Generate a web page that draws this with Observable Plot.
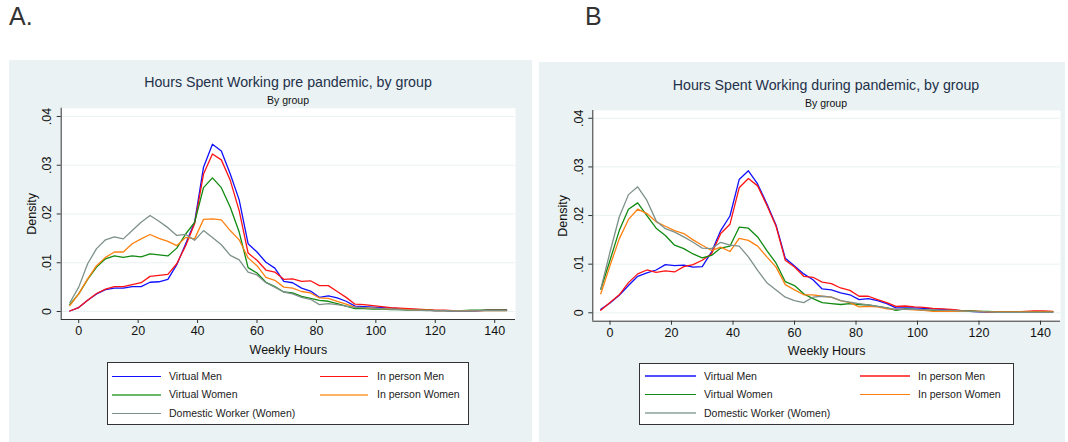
<!DOCTYPE html>
<html><head><meta charset="utf-8">
<script src="https://cdn.jsdelivr.net/npm/d3@7"></script>
<script src="https://cdn.jsdelivr.net/npm/@observablehq/plot@0.6"></script>
<style>
body{margin:0;width:1068px;height:442px;background:#fff;font-family:"Liberation Sans",Arial,sans-serif;position:relative;overflow:hidden}
.panel{position:absolute;background:#eaf2f3}
.title{position:absolute;transform:translateX(-50%);white-space:nowrap;font-size:14.2px;line-height:14px;color:#23304a}
.sub{position:absolute;transform:translateX(-50%);white-space:nowrap;font-size:10.5px;line-height:10.5px;color:#111}
.letter{position:absolute;font-size:25px;line-height:25px;color:#333}
.legend{position:absolute;background:#fff;border:1px solid #333;box-sizing:border-box}
.item{position:absolute;font-size:10.5px;line-height:12px;color:#222;white-space:nowrap}
.swatch{position:absolute}
.plotbox{position:absolute}
</style></head><body>
<script>
// ---- data ----
const groups = ["Virtual Men", "In person Men", "Virtual Women", "In person Women", "Domestic Worker (Women)"];
const colors = ["#1010ff", "#ff1414", "#108a10", "#ff8010", "#7d9189"];
const hours = [-3,0,3,6,9,12,15,18,21,24,27,30,33,36,39,42,45,48,51,54,57,60,63,66,69,72,75,78,81,84,87,90,93,96,99,102,105,108,111,114,117,120,123,126,129,132,135,138,141,144];
const xTicks = [0, 20, 40, 60, 80, 100, 120, 140];
const yTicks = [0, 0.01, 0.02, 0.03, 0.04];

// pre pandemic
const preVirtualMen = [0.0001,0.0008,0.0023,0.0036,0.0045,0.0048,0.0048,0.0051,0.0051,0.0060,0.0061,0.0066,0.0096,0.0139,0.0183,0.0296,0.0343,0.0329,0.0282,0.0229,0.0139,0.0122,0.0101,0.0089,0.0062,0.0059,0.0048,0.0042,0.0029,0.0032,0.0028,0.0021,0.0011,0.0010,0.0009,0.0008,0.0007,0.0006,0.0005,0.0004,0.0003,0.0002,0.0002,0.0001,0.0001,0.0001,0.0002,0.0003,0.0003,0.0003];
const preInPersonMen = [0.0001,0.0008,0.0023,0.0037,0.0046,0.0051,0.0051,0.0055,0.0059,0.0072,0.0074,0.0076,0.0098,0.0135,0.0180,0.0282,0.0323,0.0311,0.0269,0.0207,0.0120,0.0105,0.0085,0.0081,0.0066,0.0067,0.0062,0.0063,0.0053,0.0053,0.0041,0.0029,0.0015,0.0014,0.0012,0.0010,0.0008,0.0007,0.0006,0.0005,0.0004,0.0003,0.0003,0.0002,0.0002,0.0002,0.0002,0.0003,0.0003,0.0003];
const preVirtualWomen = [0.0014,0.0036,0.0066,0.0091,0.0108,0.0114,0.0111,0.0114,0.0112,0.0118,0.0116,0.0114,0.0130,0.0159,0.0183,0.0254,0.0274,0.0254,0.0214,0.0163,0.0090,0.0079,0.0060,0.0051,0.0040,0.0038,0.0031,0.0027,0.0023,0.0021,0.0016,0.0011,0.0006,0.0006,0.0005,0.0005,0.0004,0.0004,0.0003,0.0003,0.0003,0.0002,0.0002,0.0002,0.0002,0.0003,0.0003,0.0003,0.0003,0.0003];
const preInPersonWomen = [0.0012,0.0036,0.0067,0.0094,0.0111,0.0122,0.0122,0.0139,0.0149,0.0158,0.0150,0.0144,0.0135,0.0152,0.0149,0.0189,0.0190,0.0188,0.0166,0.0147,0.0110,0.0094,0.0070,0.0064,0.0050,0.0048,0.0041,0.0038,0.0028,0.0027,0.0021,0.0015,0.0009,0.0008,0.0007,0.0006,0.0005,0.0005,0.0004,0.0003,0.0003,0.0002,0.0002,0.0002,0.0002,0.0002,0.0002,0.0002,0.0002,0.0002];
const preDomestic = [0.0018,0.0050,0.0098,0.0129,0.0147,0.0153,0.0149,0.0166,0.0183,0.0197,0.0185,0.0172,0.0156,0.0158,0.0146,0.0166,0.0152,0.0137,0.0115,0.0106,0.0081,0.0075,0.0059,0.0050,0.0040,0.0036,0.0029,0.0025,0.0014,0.0016,0.0014,0.0011,0.0008,0.0008,0.0007,0.0006,0.0005,0.0004,0.0003,0.0003,0.0002,0.0002,0.0002,0.0001,0.0001,0.0001,0.0002,0.0002,0.0002,0.0002];

// during pandemic
const durVirtualMen = [0.0007,0.0020,0.0036,0.0056,0.0075,0.0082,0.0088,0.0099,0.0097,0.0098,0.0094,0.0095,0.0125,0.0169,0.0199,0.0274,0.0292,0.0265,0.0224,0.0180,0.0112,0.0096,0.0080,0.0068,0.0049,0.0047,0.0041,0.0037,0.0027,0.0029,0.0025,0.0019,0.0010,0.0010,0.0010,0.0009,0.0008,0.0007,0.0006,0.0004,0.0003,0.0002,0.0001,0.0001,0.0001,0.0001,0.0002,0.0002,0.0002,0.0002];
const durInPersonMen = [0.0005,0.0021,0.0037,0.0062,0.0080,0.0088,0.0083,0.0086,0.0084,0.0095,0.0099,0.0108,0.0121,0.0163,0.0182,0.0257,0.0276,0.0261,0.0221,0.0178,0.0108,0.0094,0.0075,0.0073,0.0063,0.0060,0.0051,0.0046,0.0034,0.0034,0.0027,0.0021,0.0013,0.0014,0.0012,0.0011,0.0009,0.0008,0.0007,0.0005,0.0004,0.0003,0.0002,0.0002,0.0002,0.0002,0.0003,0.0004,0.0004,0.0003];
const durVirtualWomen = [0.0048,0.0108,0.0169,0.0213,0.0226,0.0200,0.0174,0.0159,0.0139,0.0132,0.0121,0.0113,0.0118,0.0133,0.0137,0.0176,0.0174,0.0156,0.0128,0.0102,0.0064,0.0056,0.0039,0.0029,0.0021,0.0019,0.0017,0.0019,0.0017,0.0016,0.0013,0.0010,0.0005,0.0008,0.0007,0.0006,0.0005,0.0004,0.0004,0.0004,0.0004,0.0003,0.0003,0.0002,0.0002,0.0002,0.0002,0.0002,0.0002,0.0002];
const durInPersonWomen = [0.0039,0.0097,0.0152,0.0192,0.0213,0.0204,0.0187,0.0178,0.0169,0.0163,0.0150,0.0139,0.0128,0.0135,0.0126,0.0153,0.0149,0.0137,0.0115,0.0094,0.0058,0.0047,0.0037,0.0037,0.0034,0.0032,0.0025,0.0021,0.0012,0.0013,0.0012,0.0008,0.0007,0.0007,0.0006,0.0005,0.0003,0.0003,0.0003,0.0003,0.0003,0.0003,0.0002,0.0002,0.0002,0.0002,0.0002,0.0002,0.0002,0.0002];
const durDomestic = [0.0049,0.0125,0.0197,0.0243,0.0259,0.0231,0.0189,0.0173,0.0166,0.0156,0.0145,0.0133,0.0132,0.0145,0.0139,0.0137,0.0115,0.0087,0.0062,0.0047,0.0032,0.0025,0.0021,0.0032,0.0034,0.0032,0.0025,0.0022,0.0019,0.0016,0.0013,0.0010,0.0007,0.0007,0.0007,0.0006,0.0006,0.0005,0.0005,0.0004,0.0003,0.0002,0.0002,0.0001,0.0001,0.0001,0.0001,0.0001,0.0001,0.0001];

const preSeries = [preVirtualMen, preInPersonMen, preVirtualWomen, preInPersonWomen, preDomestic];
const durSeries = [durVirtualMen, durInPersonMen, durVirtualWomen, durInPersonWomen, durDomestic];

function tidy(series) {
  const out = [];
  series.forEach((vals, gi) => vals.forEach((v, i) => out.push({group: groups[gi], hours: hours[i], density: v})));
  return out;
}
const fmtY = d => d === 0 ? "0" : d3.format(".2f")(d).replace(/^0/, "");

function el(tag, cls, style, text) {
  const e = document.createElement(tag);
  if (cls) e.className = cls;
  Object.assign(e.style, style || {});
  if (text != null) e.textContent = text;
  document.body.appendChild(e);
  return e;
}

function panel(cfg) {
  el("div", "panel", {left: cfg.bg[0] + "px", top: cfg.bg[1] + "px", width: cfg.bg[2] + "px", height: cfg.bg[3] + "px"});
  el("div", "letter", {left: cfg.letterX + "px", top: "4px"}, cfg.letter);
  el("div", "title", {left: cfg.cx + "px", top: (cfg.titleY - 7) + "px"}, cfg.title);
  el("div", "sub", {left: cfg.cx + "px", top: (cfg.subY - 5.25) + "px"}, "By group");

  const chart = Plot.plot({
    width: cfg.w, height: cfg.h,
    marginLeft: cfg.ml, marginRight: cfg.mr, marginTop: cfg.mt, marginBottom: cfg.mb,
    style: {background: "transparent", fontFamily: "Liberation Sans, Arial, sans-serif", fontSize: "12.5px", color: "#111", overflow: "visible"},
    x: {domain: cfg.xd},
    y: {domain: cfg.yd},
    color: {domain: groups, range: colors},
    marks: [
      Plot.frame({fill: "white", stroke: "none"}),
      Plot.gridY(yTicks, {stroke: "#eaf2f3", strokeOpacity: 1, strokeWidth: 1}),
      Plot.line(tidy(cfg.series), {x: "hours", y: "density", z: "group", stroke: "group", strokeWidth: 1.3}),
      Plot.ruleX([cfg.xd[0]], {stroke: "#333", strokeWidth: 1}),
      Plot.ruleY([cfg.yd[0]], {stroke: "#333", strokeWidth: 1}),
      Plot.axisY(yTicks, {tickRotate: -90, tickSize: 4, tickPadding: 6, tickFormat: fmtY, stroke: "#333", fill: "#111",
        label: "Density", labelAnchor: "center", labelOffset: cfg.ylo, labelArrow: "none"}),
      Plot.axisX(xTicks, {tickSize: 4, tickPadding: 3, stroke: "#333", fill: "#111",
        label: "Weekly Hours", labelAnchor: "center", labelOffset: cfg.xlo, labelArrow: "none"})
    ]
  });
  const box = el("div", "plotbox", {left: cfg.sx + "px", top: cfg.sy + "px"});
  box.appendChild(chart);

  const L = cfg.legend;
  el("div", "legend", {left: L.box[0] + "px", top: L.box[1] + "px", width: L.box[2] + "px", height: L.box[3] + "px"});
  const slots = [[0, 0], [0, 1], [1, 0], [1, 1], [2, 0]];
  groups.forEach((g, i) => {
    const [r, c] = slots[i];
    const col = c === 0 ? L.col1 : L.col2;
    const y = L.rows[r];
    el("div", "swatch", {left: col[0] + "px", top: Math.round(y - L.sw[i] / 2) + "px", width: (col[1] - col[0]) + "px",
      height: L.sw[i] + "px", background: L.sc[i]});
    el("div", "item", {left: col[2] + "px", top: (y - 6.5) + "px"}, g);
  });
}

panel({
  bg: [9, 60, 523, 382], letter: "A.", letterX: 9,
  title: "Hours Spent Working pre pandemic, by group", cx: 288, titleY: 82, subY: 100,
  sx: 10, sy: 104, w: 522, h: 256, ml: 50.7, mr: 17, mt: 3.7, mb: 41,
  xd: [-5.9, 147], yd: [-0.00164, 0.0417], ylo: 34, xlo: 34,
  series: preSeries,
  legend: {box: [107, 362, 362, 63], rows: [376, 394.5, 413], col1: [112, 161, 169], col2: [320, 368, 377],
    sw: [1, 1, 2, 2, 1], sc: ["#1010ff", "#ff1414", "#6ab86a", "#ffb262", "#7d9189"]}
});

panel({
  bg: [539, 62, 526, 380], letter: "B", letterX: 585,
  title: "Hours Spent Working during pandemic, by group", cx: 826, titleY: 85, subY: 103,
  sx: 540, sy: 104, w: 525, h: 256, ml: 52.3, mr: 5, mt: 6, mb: 39.3,
  xd: [-5.6, 146.5], yd: [-0.00173, 0.0416], ylo: 35, xlo: 34,
  series: durSeries,
  legend: {box: [639, 363, 375, 62], rows: [376, 394.3, 413], col1: [645, 696, 704], col2: [860, 910, 918],
    sw: [2, 2, 1, 1, 2], sc: ["#5050ff", "#ff5050", "#108a10", "#ff8010", "#a9bab3"]}
});
</script>
</body></html>
